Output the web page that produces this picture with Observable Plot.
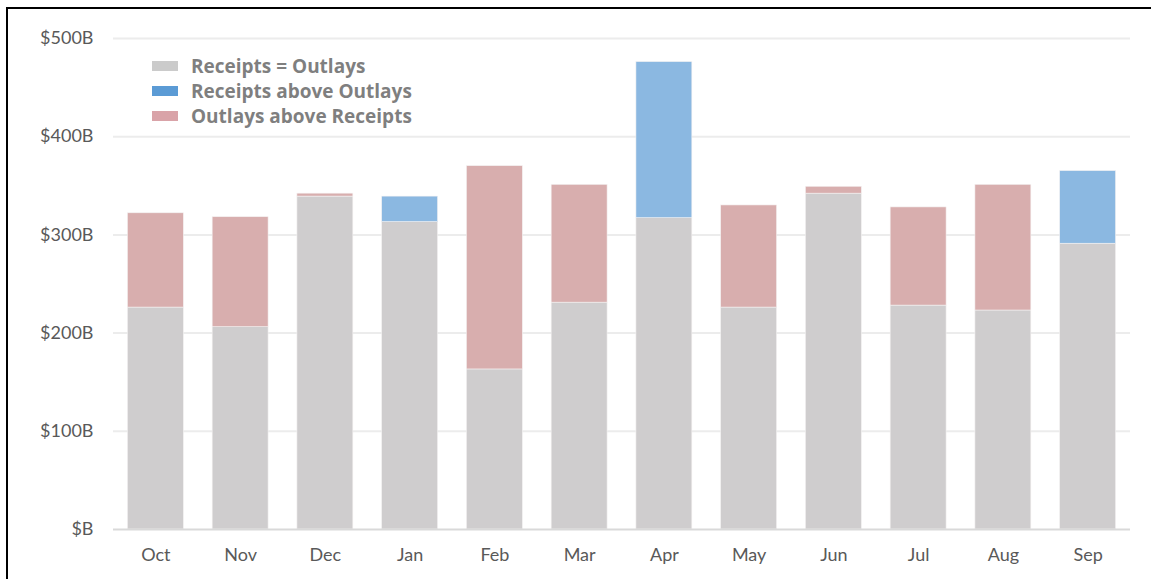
<!DOCTYPE html>
<html>
<head>
<meta charset="utf-8">
<script src="https://cdn.jsdelivr.net/npm/d3@7"></script>
<script src="https://cdn.jsdelivr.net/npm/@observablehq/plot@0.6"></script>
<style>
  html, body { margin: 0; padding: 0; background: #fff; overflow: hidden; }
  #wrap { position: relative; width: 1151px; height: 579px; }
  #border { position: absolute; left: 6px; top: 7px; width: 1200px; height: 700px; border: 2px solid #000; box-sizing: border-box; pointer-events: none; }
  #legend { position: absolute; left: 152px; top: 53px; font-family: "Open Sans", Lato, sans-serif; font-weight: bold; font-size: 19px; color: #7f7f7f; }
  #legend .row { display: flex; align-items: center; height: 25px; }
  #legend .sw { width: 26px; height: 10px; margin-right: 13px; }
</style>
</head>
<body>
<div id="wrap">
  <div id="chart"></div>
  <div id="legend"></div>
  <div id="border"></div>
</div>
<script>
const months = ["Oct","Nov","Dec","Jan","Feb","Mar","Apr","May","Jun","Jul","Aug","Sep"];
const receipts = [226, 206, 339, 339, 163, 231, 476, 226, 342, 228, 223, 365];
const outlays  = [322, 318, 342, 313, 370, 351, 317, 330, 349, 328, 351, 291];
const categories = ["Receipts = Outlays", "Receipts above Outlays", "Outlays above Receipts"];
const barColors = ["#cfcdce", "#8bb8e1", "#d8aeae"];
const legendColors = ["#cbcbcb", "#5b9bd5", "#d9a3a8"];
const yTicks = [0, 100, 200, 300, 400, 500];

const segments = [];
months.forEach((m, i) => {
  const lo = Math.min(receipts[i], outlays[i]);
  const hi = Math.max(receipts[i], outlays[i]);
  segments.push({month: m, y1: 0, y2: lo, type: categories[0]});
  segments.push({month: m, y1: lo, y2: hi, type: receipts[i] > outlays[i] ? categories[1] : categories[2]});
});

const chart = Plot.plot({
  width: 1151,
  height: 579,
  marginLeft: 113,
  marginRight: 21,
  marginTop: 38,
  marginBottom: 50,
  style: { fontFamily: "Lato, 'Open Sans', sans-serif", fontSize: "18px", color: "#595959", background: "transparent" },
  x: { domain: months, paddingInner: 0.34, paddingOuter: 0.17, round: false, label: null, tickSize: 0, tickPadding: 19 },
  y: { domain: [0, 500], ticks: yTicks, label: null, tickSize: 0, tickPadding: 20, tickFormat: d => d === 0 ? "$B" : `$${d}B` },
  color: { domain: categories, range: barColors },
  marks: [
    Plot.ruleY(yTicks.filter(d => d > 0), { stroke: "#ececec", strokeWidth: 2 }),
    Plot.barY(segments, { x: "month", y1: "y1", y2: "y2", fill: "type", stroke: "#f4f2f2", strokeWidth: 0.6, inset: 0 }),
    Plot.ruleY([0], { stroke: "#d9d9d9", strokeWidth: 2 })
  ]
});
document.getElementById("chart").appendChild(chart);

const legend = document.getElementById("legend");
categories.forEach((c, i) => {
  const row = document.createElement("div");
  row.className = "row";
  const sw = document.createElement("div");
  sw.className = "sw";
  sw.style.background = legendColors[i];
  const t = document.createElement("span");
  t.textContent = c;
  row.appendChild(sw);
  row.appendChild(t);
  legend.appendChild(row);
});
</script>
</body>
</html>
